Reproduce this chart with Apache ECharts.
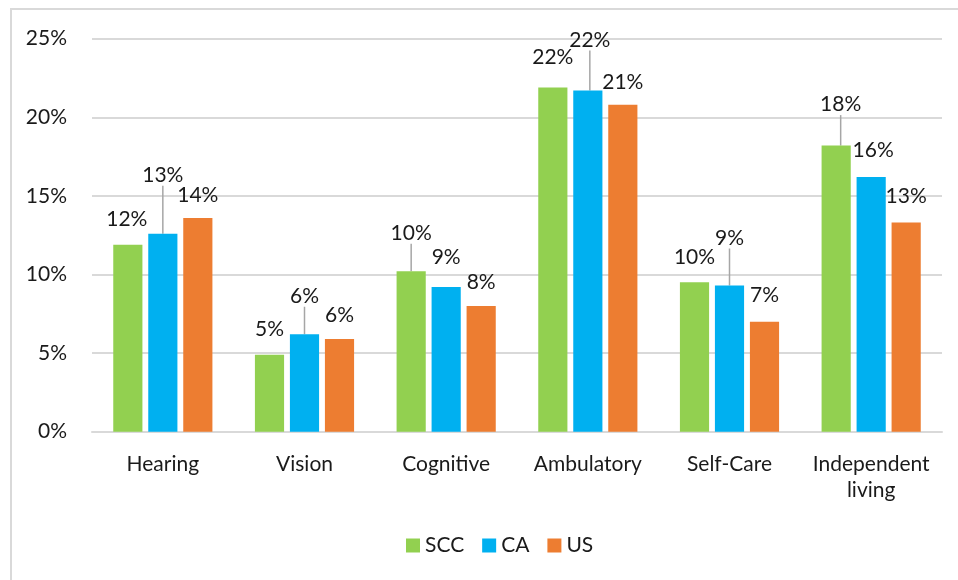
<!DOCTYPE html>
<html>
<head>
<meta charset="utf-8">
<script src="https://cdn.jsdelivr.net/npm/echarts@6/dist/echarts.min.js"></script>
<style>
  html, body { margin: 0; padding: 0; background: #fff; }
  #frame {
    position: absolute; left: 10px; top: 8px; width: 980px; height: 600px;
    border: 2px solid #d9d9d9; box-sizing: border-box;
  }
  #chart { position: absolute; left: 0; top: 0; width: 958px; height: 580px; }
</style>
</head>
<body>
<div id="frame"></div>
<div id="chart"></div>
<script>
const categories = ["Hearing", "Vision", "Cognitive", "Ambulatory", "Self-Care", "Independent\nliving"];
const seriesNames = ["SCC", "CA", "US"];
const sccValues = [11.9, 4.9, 10.2, 21.9, 9.5, 18.2];
const caValues = [12.6, 6.2, 9.2, 21.7, 9.3, 16.2];
const usValues = [13.6, 5.9, 8.0, 20.8, 7.0, 13.3];
const yTicks = [0, 5, 10, 15, 20, 25];

const colors = ["#92D050", "#00B0F0", "#ED7D31"];
const font = "Lato, 'Noto Sans', sans-serif";

// label nudges (dx, dy) per series, per category
const labelShift = [
  [[-1, -1], [0, -0.5], [0, -13.5], [0, -5.5], [0, -0.5], [4.5, -16.5]],
  [[0, -34], [0, -13.5], [0, -5.5], [2, -26], [0, -23], [2, -2.5]],
  [[0, 2], [0, 0.5], [0, 0.5], [0, 2.5], [0, -1.5], [0, -1.5]],
];
// which labels get a leader line
const leaders = [
  [false, false, true, false, false, true],
  [true, true, false, true, true, false],
  [false, false, false, false, false, false],
];

const chart = echarts.init(document.getElementById("chart"));

const makeSeries = (name, values, idx) => ({
  name,
  type: "bar",
  data: values.map((v, i) => ({
    value: v,
    labelLine: { show: leaders[idx][i] },
  })),
  barGap: "20%",
  barCategoryGap: "30%",
  itemStyle: { color: colors[idx] },
  label: {
    show: true,
    position: "top",
    distance: 14,
    color: "#1a1a1a",
    fontFamily: font,
    fontSize: 21,
    formatter: (p) => Math.round(p.value) + "%",
  },
  labelLine: {
    lineStyle: { color: "#a6a6a6", width: 1.5 },
  },
  labelLayout: (params) => {
    const s = labelShift[idx][params.dataIndex];
    return { dx: s[0], dy: s[1] };
  },
});

const option = {
  animation: false,
  grid: { left: 92, right: 16, top: 38.7, bottom: 148.3, containLabel: false },
  legend: {
    data: seriesNames,
    left: 406,
    top: 535,
    padding: 0,
    icon: "rect",
    itemWidth: 14,
    itemHeight: 14,
    itemGap: 18,
    textStyle: { fontFamily: font, fontSize: 21, color: "#1a1a1a" },
  },
  xAxis: {
    type: "category",
    data: categories,
    axisTick: { show: false },
    axisLine: { show: true, lineStyle: { color: "#d9d9d9", width: 2 } },
    axisLabel: {
      margin: 20,
      color: "#1a1a1a",
      fontFamily: font,
      fontSize: 21,
      lineHeight: 26,
      interval: 0,
    },
  },
  yAxis: {
    type: "value",
    min: yTicks[0],
    max: yTicks[yTicks.length - 1],
    interval: 5,
    axisLine: { show: false },
    axisTick: { show: false },
    splitLine: { lineStyle: { color: "#d9d9d9", width: 2 } },
    axisLabel: {
      margin: 25,
      color: "#1a1a1a",
      fontFamily: font,
      fontSize: 21,
      formatter: (v) => v + "%",
    },
  },
  series: [
    makeSeries("SCC", sccValues, 0),
    makeSeries("CA", caValues, 1),
    makeSeries("US", usValues, 2),
  ],
};

chart.setOption(option);
</script>
</body>
</html>
